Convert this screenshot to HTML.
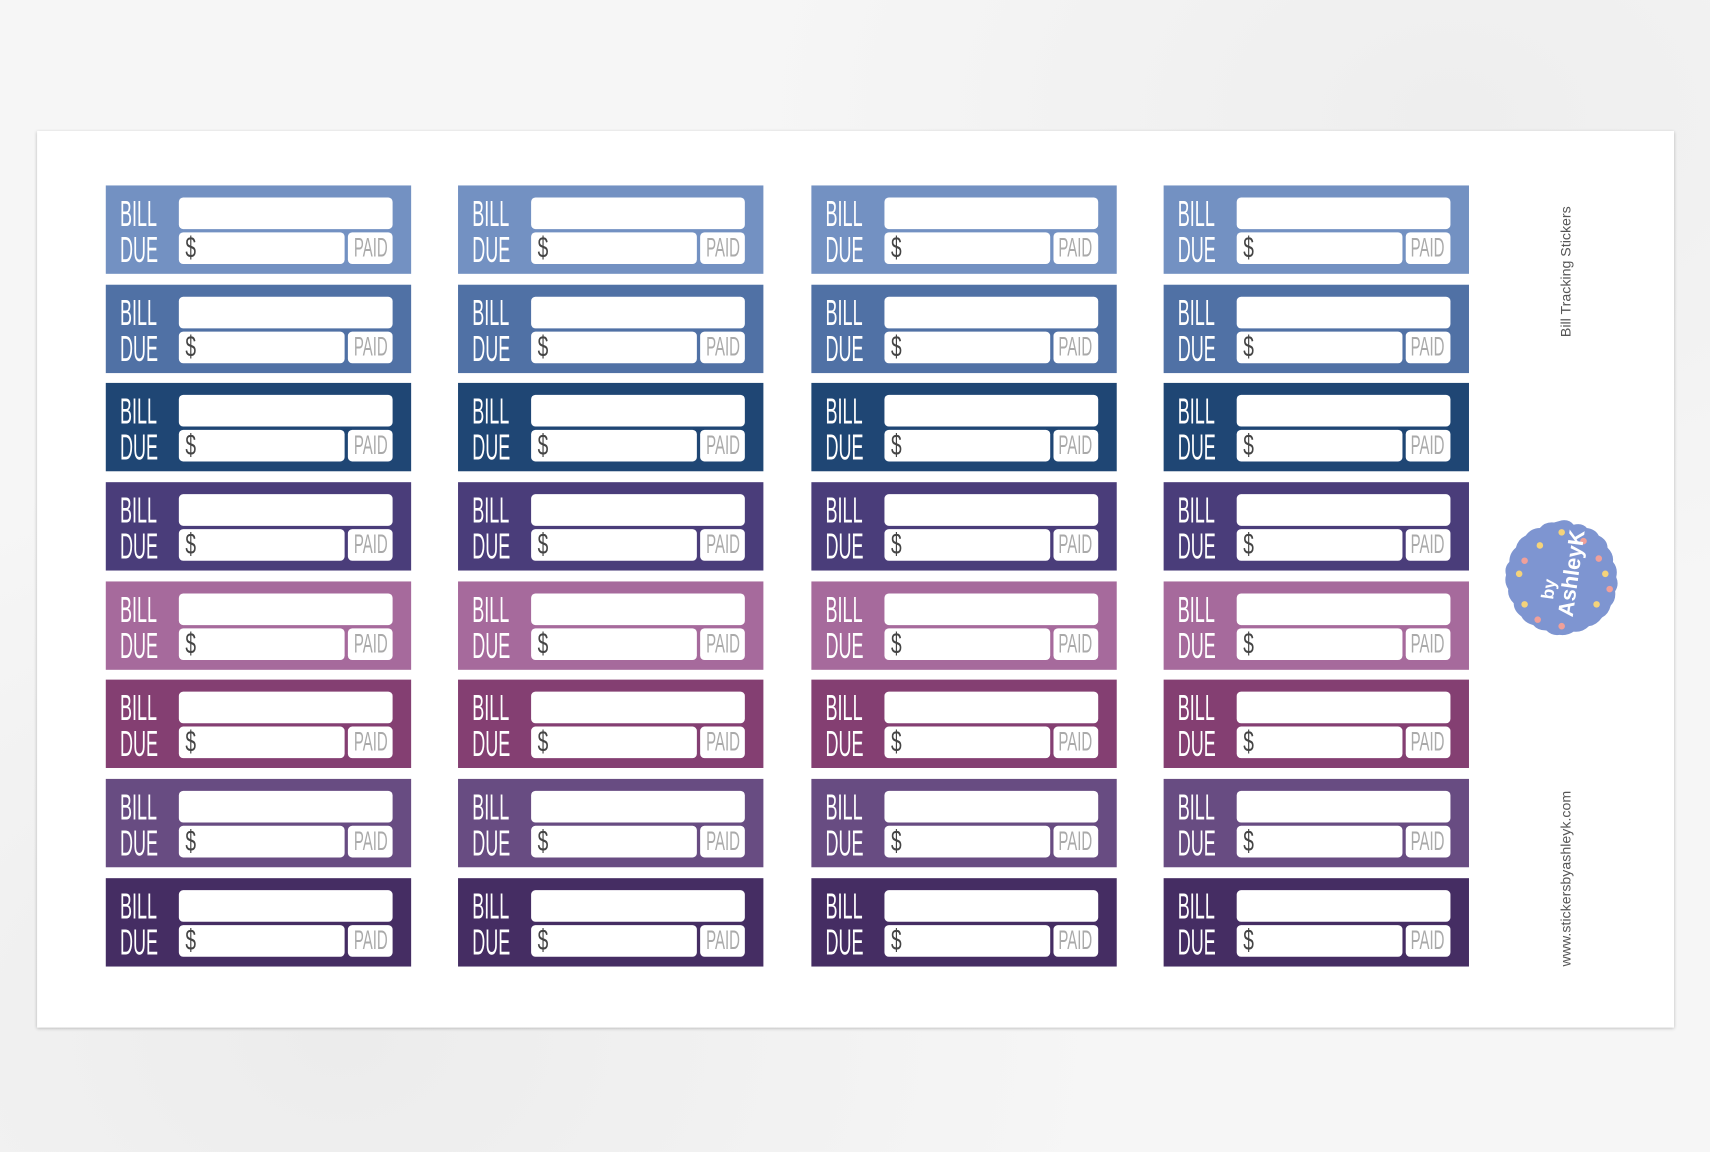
<!DOCTYPE html>
<html><head><meta charset="utf-8"><style>
html,body{margin:0;padding:0;width:1710px;height:1152px;overflow:hidden;background:#f4f4f4;}
#w{position:absolute;left:0;top:0;width:1568px;height:1056px;transform:scale(1.09056,1.0909);transform-origin:0 0;
background:radial-gradient(ellipse at 20% 90%,#ececec,transparent 40%),radial-gradient(ellipse at 85% 10%,#eeeeee,transparent 35%),#f6f6f6;}
#paper{position:absolute;left:34px;top:120px;width:1501px;height:822px;background:#fff;box-shadow:0 1px 3px rgba(0,0,0,.25);}
#g{position:absolute;left:97px;top:170px;display:grid;grid-template-columns:repeat(4,280px);grid-auto-rows:81px;column-gap:43.3px;row-gap:9.7px;}
.s{position:relative;width:280px;height:81px;font-family:"Liberation Sans",sans-serif;}
.s .t{position:absolute;left:67px;top:11px;width:196px;height:29px;background:#fff;border-radius:4px;}
.s .b{position:absolute;left:67px;top:43px;width:152px;height:29px;background:#fff;border-radius:4px;}
.s .p{position:absolute;left:222px;top:43px;width:41px;height:29px;background:#fff;border-radius:4px;color:#aaa;font-size:25px;line-height:29px;overflow:hidden;}
.s .p span{position:absolute;left:50%;top:0;transform:translateX(-50%) scaleX(.55);white-space:nowrap;}
.s .l{position:absolute;left:13px;color:#fff;font-size:33px;line-height:31px;transform:scaleX(.5);transform-origin:0 0;}
.s .d{position:absolute;left:73px;top:43px;color:#444;font-size:27px;line-height:29px;transform:scaleX(.65);transform-origin:0 0;}
.r1{background:#7391c2}.r2{background:#5071a5}.r3{background:#1f4674}.r4{background:#4a3d7a}
.r5{background:#a66a9c}.r6{background:#843f72}.r7{background:#684c82}.r8{background:#452d63}
.v{position:absolute;font-family:"Liberation Sans",sans-serif;color:#555;font-size:13px;transform:rotate(-90deg);transform-origin:0 0;white-space:nowrap;}
</style></head><body><div id="w"><div id="paper"></div>
<div class="v" style="left:1428px;top:309px;">Bill Tracking Stickers</div>
<div class="v" style="left:1428px;top:886px;">www.stickersbyashleyk.com</div>
<svg style="position:absolute;left:1376px;top:474px" width="112" height="112" viewBox="0 0 112 112">
<path d="M56 3 Q63 2 67 7 Q75 5 79 10 Q87 11 90 17 Q98 21 98 28 Q104 34 103 41 Q108 47 106 55 Q109 62 105 68 Q106 76 101 81 Q99 89 93 92 Q88 99 81 100 Q75 106 67 105 Q61 109 54 108 Q47 109 42 104 Q34 104 30 99 Q22 97 19 91 Q12 86 12 79 Q6 73 7 66 Q3 60 5 53 Q3 46 8 41 Q8 33 14 28 Q16 20 23 17 Q28 10 36 10 Q41 4 49 5 Z" fill="#7e95d1"/>
<g fill="#f5d37a"><circle cx="56" cy="14" r="3"/><circle cx="17" cy="52" r="3"/><circle cx="96" cy="52" r="3"/><circle cx="22" cy="80" r="3"/><circle cx="88" cy="80" r="3"/><circle cx="36" cy="26" r="3"/></g>
<g fill="#f0a09a"><circle cx="76" cy="22" r="3"/><circle cx="22" cy="40" r="3"/><circle cx="100" cy="66" r="3"/><circle cx="56" cy="100" r="3"/><circle cx="34" cy="94" r="3"/><circle cx="90" cy="38" r="3"/></g>
<text transform="translate(66,92) rotate(-82)" fill="#fff" font-family="Liberation Sans,sans-serif" font-weight="bold" font-size="20">AshleyK</text>
<text transform="translate(48,76) rotate(-82)" fill="#fff" font-family="Liberation Sans,sans-serif" font-weight="bold" font-size="16">by</text>
</svg>
<div id="g">
<div class="s r1"><div class="t"></div><div class="b"></div><div class="p"><span>PAID</span></div><div class="l" style="top:10px">BILL</div><div class="l" style="top:43px">DUE</div><div class="d">$</div></div>
<div class="s r1"><div class="t"></div><div class="b"></div><div class="p"><span>PAID</span></div><div class="l" style="top:10px">BILL</div><div class="l" style="top:43px">DUE</div><div class="d">$</div></div>
<div class="s r1"><div class="t"></div><div class="b"></div><div class="p"><span>PAID</span></div><div class="l" style="top:10px">BILL</div><div class="l" style="top:43px">DUE</div><div class="d">$</div></div>
<div class="s r1"><div class="t"></div><div class="b"></div><div class="p"><span>PAID</span></div><div class="l" style="top:10px">BILL</div><div class="l" style="top:43px">DUE</div><div class="d">$</div></div>
<div class="s r2"><div class="t"></div><div class="b"></div><div class="p"><span>PAID</span></div><div class="l" style="top:10px">BILL</div><div class="l" style="top:43px">DUE</div><div class="d">$</div></div>
<div class="s r2"><div class="t"></div><div class="b"></div><div class="p"><span>PAID</span></div><div class="l" style="top:10px">BILL</div><div class="l" style="top:43px">DUE</div><div class="d">$</div></div>
<div class="s r2"><div class="t"></div><div class="b"></div><div class="p"><span>PAID</span></div><div class="l" style="top:10px">BILL</div><div class="l" style="top:43px">DUE</div><div class="d">$</div></div>
<div class="s r2"><div class="t"></div><div class="b"></div><div class="p"><span>PAID</span></div><div class="l" style="top:10px">BILL</div><div class="l" style="top:43px">DUE</div><div class="d">$</div></div>
<div class="s r3"><div class="t"></div><div class="b"></div><div class="p"><span>PAID</span></div><div class="l" style="top:10px">BILL</div><div class="l" style="top:43px">DUE</div><div class="d">$</div></div>
<div class="s r3"><div class="t"></div><div class="b"></div><div class="p"><span>PAID</span></div><div class="l" style="top:10px">BILL</div><div class="l" style="top:43px">DUE</div><div class="d">$</div></div>
<div class="s r3"><div class="t"></div><div class="b"></div><div class="p"><span>PAID</span></div><div class="l" style="top:10px">BILL</div><div class="l" style="top:43px">DUE</div><div class="d">$</div></div>
<div class="s r3"><div class="t"></div><div class="b"></div><div class="p"><span>PAID</span></div><div class="l" style="top:10px">BILL</div><div class="l" style="top:43px">DUE</div><div class="d">$</div></div>
<div class="s r4"><div class="t"></div><div class="b"></div><div class="p"><span>PAID</span></div><div class="l" style="top:10px">BILL</div><div class="l" style="top:43px">DUE</div><div class="d">$</div></div>
<div class="s r4"><div class="t"></div><div class="b"></div><div class="p"><span>PAID</span></div><div class="l" style="top:10px">BILL</div><div class="l" style="top:43px">DUE</div><div class="d">$</div></div>
<div class="s r4"><div class="t"></div><div class="b"></div><div class="p"><span>PAID</span></div><div class="l" style="top:10px">BILL</div><div class="l" style="top:43px">DUE</div><div class="d">$</div></div>
<div class="s r4"><div class="t"></div><div class="b"></div><div class="p"><span>PAID</span></div><div class="l" style="top:10px">BILL</div><div class="l" style="top:43px">DUE</div><div class="d">$</div></div>
<div class="s r5"><div class="t"></div><div class="b"></div><div class="p"><span>PAID</span></div><div class="l" style="top:10px">BILL</div><div class="l" style="top:43px">DUE</div><div class="d">$</div></div>
<div class="s r5"><div class="t"></div><div class="b"></div><div class="p"><span>PAID</span></div><div class="l" style="top:10px">BILL</div><div class="l" style="top:43px">DUE</div><div class="d">$</div></div>
<div class="s r5"><div class="t"></div><div class="b"></div><div class="p"><span>PAID</span></div><div class="l" style="top:10px">BILL</div><div class="l" style="top:43px">DUE</div><div class="d">$</div></div>
<div class="s r5"><div class="t"></div><div class="b"></div><div class="p"><span>PAID</span></div><div class="l" style="top:10px">BILL</div><div class="l" style="top:43px">DUE</div><div class="d">$</div></div>
<div class="s r6"><div class="t"></div><div class="b"></div><div class="p"><span>PAID</span></div><div class="l" style="top:10px">BILL</div><div class="l" style="top:43px">DUE</div><div class="d">$</div></div>
<div class="s r6"><div class="t"></div><div class="b"></div><div class="p"><span>PAID</span></div><div class="l" style="top:10px">BILL</div><div class="l" style="top:43px">DUE</div><div class="d">$</div></div>
<div class="s r6"><div class="t"></div><div class="b"></div><div class="p"><span>PAID</span></div><div class="l" style="top:10px">BILL</div><div class="l" style="top:43px">DUE</div><div class="d">$</div></div>
<div class="s r6"><div class="t"></div><div class="b"></div><div class="p"><span>PAID</span></div><div class="l" style="top:10px">BILL</div><div class="l" style="top:43px">DUE</div><div class="d">$</div></div>
<div class="s r7"><div class="t"></div><div class="b"></div><div class="p"><span>PAID</span></div><div class="l" style="top:10px">BILL</div><div class="l" style="top:43px">DUE</div><div class="d">$</div></div>
<div class="s r7"><div class="t"></div><div class="b"></div><div class="p"><span>PAID</span></div><div class="l" style="top:10px">BILL</div><div class="l" style="top:43px">DUE</div><div class="d">$</div></div>
<div class="s r7"><div class="t"></div><div class="b"></div><div class="p"><span>PAID</span></div><div class="l" style="top:10px">BILL</div><div class="l" style="top:43px">DUE</div><div class="d">$</div></div>
<div class="s r7"><div class="t"></div><div class="b"></div><div class="p"><span>PAID</span></div><div class="l" style="top:10px">BILL</div><div class="l" style="top:43px">DUE</div><div class="d">$</div></div>
<div class="s r8"><div class="t"></div><div class="b"></div><div class="p"><span>PAID</span></div><div class="l" style="top:10px">BILL</div><div class="l" style="top:43px">DUE</div><div class="d">$</div></div>
<div class="s r8"><div class="t"></div><div class="b"></div><div class="p"><span>PAID</span></div><div class="l" style="top:10px">BILL</div><div class="l" style="top:43px">DUE</div><div class="d">$</div></div>
<div class="s r8"><div class="t"></div><div class="b"></div><div class="p"><span>PAID</span></div><div class="l" style="top:10px">BILL</div><div class="l" style="top:43px">DUE</div><div class="d">$</div></div>
<div class="s r8"><div class="t"></div><div class="b"></div><div class="p"><span>PAID</span></div><div class="l" style="top:10px">BILL</div><div class="l" style="top:43px">DUE</div><div class="d">$</div></div>
</div></div></body></html>
